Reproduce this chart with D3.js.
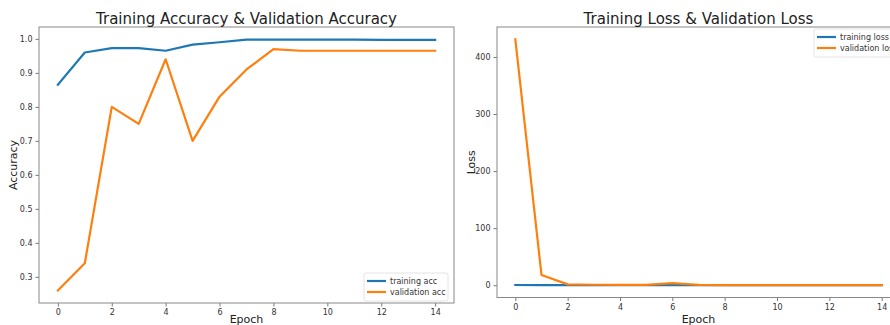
<!DOCTYPE html>
<html>
<head>
<meta charset="utf-8">
<script src="https://cdn.jsdelivr.net/npm/d3@7"></script>
<style>
  html, body { margin: 0; padding: 0; background: #fff; overflow: hidden; }
  svg { display: block; font-family: "DejaVu Sans", sans-serif; }
</style>
</head>
<body>
<svg id="chart" width="890" height="325"></svg>
<script>
// Epoch index shared by both panels
const epochs = [0, 1, 2, 3, 4, 5, 6, 7, 8, 9, 10, 11, 12, 13, 14];

// Accuracy history
const trainAcc = [0.865, 0.960, 0.973, 0.973, 0.965, 0.983, 0.990, 0.998, 0.998, 0.998, 0.998, 0.998, 0.997, 0.997, 0.997];
const valAcc   = [0.260, 0.340, 0.800, 0.750, 0.940, 0.700, 0.830, 0.910, 0.970, 0.965, 0.965, 0.965, 0.965, 0.965, 0.965];

// Loss history
const trainLoss = [0.35, 0.12, 0.08, 0.06, 0.10, 0.05, 0.04, 0.02, 0.02, 0.01, 0.01, 0.01, 0.01, 0.01, 0.01];
const valLoss   = [431, 18, 1.5, 0.8, 0.5, 0.7, 3.5, 0.5, 0.3, 0.3, 0.3, 0.3, 0.3, 0.3, 0.3];

// Tick labels
const xTicks = [0, 2, 4, 6, 8, 10, 12, 14];
const accTicks = [0.3, 0.4, 0.5, 0.6, 0.7, 0.8, 0.9, 1.0];
const lossTicks = [0, 100, 200, 300, 400];

const BLUE = "#1f77b4", ORANGE = "#ff7f0e";
const svg = d3.select("#chart");

// matplotlib-style 5% padding around the data range
function padded(lo, hi) {
  const m = (hi - lo) * 0.05;
  return [lo - m, hi + m];
}

function panel(opts) {
  const { left, right, top, bottom, title, ylabel, yTicks, yFmt, series, legend } = opts;
  const g = svg.append("g");

  const x = d3.scaleLinear().domain(padded(0, 14)).range([left, right]);
  const all = series.flatMap(s => s.values);
  const y = d3.scaleLinear().domain(padded(d3.min(all), d3.max(all))).range([bottom, top]);

  // lines
  const line = d3.line().x((d, i) => x(epochs[i])).y(d => y(d));
  series.forEach(s => {
    g.append("path").datum(s.values)
      .attr("d", line)
      .attr("fill", "none")
      .attr("stroke", s.color)
      .attr("stroke-width", 2.2)
      .attr("stroke-linejoin", "round")
      .attr("stroke-linecap", "square");
  });

  // axes
  const xAxis = d3.axisBottom(x).tickValues(xTicks).tickSize(3.5).tickPadding(3).tickFormat(d3.format("d"));
  const yAxis = d3.axisLeft(y).tickValues(yTicks).tickSize(3.5).tickPadding(3).tickFormat(yFmt);

  const gx = g.append("g").attr("transform", `translate(0,${bottom})`).call(xAxis);
  const gy = g.append("g").attr("transform", `translate(${left},0)`).call(yAxis);
  [gx, gy].forEach(a => {
    a.select(".domain").remove();
    a.selectAll(".tick line").attr("stroke", "#555").attr("stroke-width", 0.8);
    a.selectAll(".tick text").attr("fill", "#333").style("font-size", "8px")
      .style("font-family", "'DejaVu Sans', sans-serif");
  });

  // frame (all four spines)
  g.append("rect")
    .attr("x", left).attr("y", top)
    .attr("width", right - left).attr("height", bottom - top)
    .attr("fill", "none").attr("stroke", "#888").attr("stroke-width", 1);

  // title
  g.append("text")
    .attr("x", (left + right) / 2).attr("y", top - 3)
    .attr("text-anchor", "middle")
    .attr("fill", "#222")
    .style("font-size", "15px")
    .text(title);

  // axis labels
  g.append("text")
    .attr("x", (left + right) / 2).attr("y", 323)
    .attr("text-anchor", "middle")
    .attr("fill", "#222")
    .style("font-size", "11px")
    .text("Epoch");

  g.append("text")
    .attr("transform", `translate(${left - 22},${(top + bottom) / 2}) rotate(-90)`)
    .attr("text-anchor", "middle")
    .attr("fill", "#222")
    .style("font-size", "11px")
    .text(ylabel);

  // legend
  const lg = g.append("g").attr("transform", `translate(${legend.x},${legend.y})`);
  lg.append("rect")
    .attr("x", 0).attr("y", 0)
    .attr("width", legend.w).attr("height", 28)
    .attr("rx", 2)
    .attr("fill", "#fff").attr("fill-opacity", 0.8)
    .attr("stroke", "#ddd").attr("stroke-width", 0.8);
  series.forEach((s, i) => {
    const ly = 8 + i * 11;
    lg.append("line")
      .attr("x1", 3).attr("x2", 22).attr("y1", ly).attr("y2", ly)
      .attr("stroke", s.color).attr("stroke-width", 2.2);
    lg.append("text")
      .attr("x", 26).attr("y", ly + 3)
      .attr("fill", "#333")
      .style("font-size", "8px")
      .text(s.label);
  });
}

panel({
  left: 39, right: 454, top: 27, bottom: 303,
  title: "Training Accuracy & Validation Accuracy",
  ylabel: "Accuracy",
  yTicks: accTicks,
  yFmt: d3.format(".1f"),
  series: [
    { values: trainAcc, color: BLUE, label: "training acc" },
    { values: valAcc, color: ORANGE, label: "validation acc" }
  ],
  legend: { x: 364, y: 273, w: 84 }
});

panel({
  left: 497, right: 900, top: 27, bottom: 297.5,
  title: "Training Loss & Validation Loss",
  ylabel: "Loss",
  yTicks: lossTicks,
  yFmt: d3.format("d"),
  series: [
    { values: trainLoss, color: BLUE, label: "training loss" },
    { values: valLoss, color: ORANGE, label: "validation loss" }
  ],
  legend: { x: 814, y: 29, w: 84 }
});
</script>
</body>
</html>
